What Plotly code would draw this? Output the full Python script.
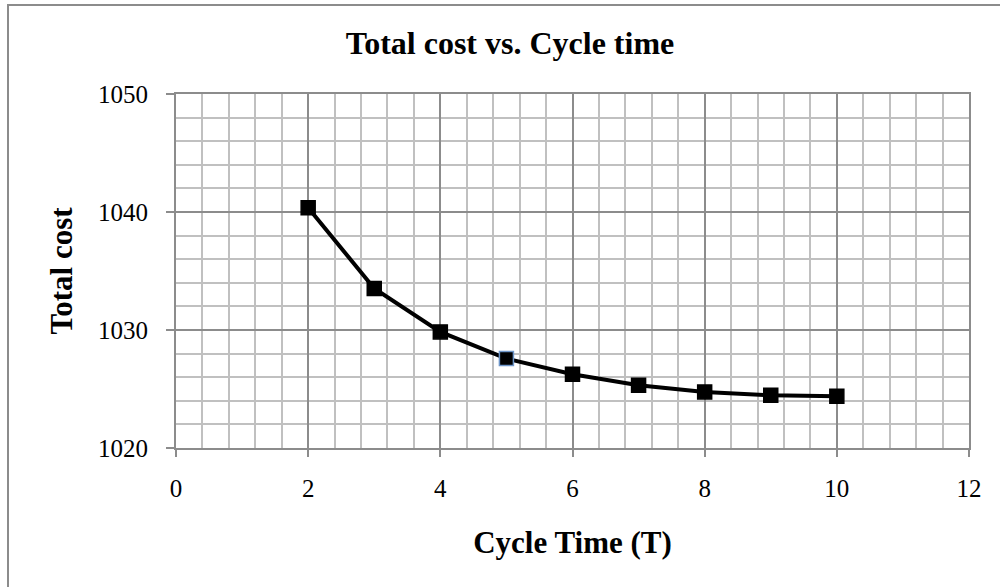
import plotly.graph_objects as go

cycle_time = [2, 3, 4, 5, 6, 7, 8, 9, 10]
total_cost = [1040.36, 1033.52, 1029.84, 1027.58, 1026.25, 1025.32, 1024.75, 1024.47, 1024.39]
marker_edge = ["black", "black", "black", "#6d95c8", "black", "black", "black", "black", "black"]

x_ticks = [0, 2, 4, 6, 8, 10, 12]
y_ticks = [1020, 1030, 1040, 1050]

FONT = "Liberation Serif, Times New Roman, serif"
MAJOR = "#8c8c8c"
MINOR = "#c0c0c0"

fig = go.Figure()
fig.add_trace(go.Scatter(
    x=cycle_time, y=total_cost, mode="lines+markers",
    line=dict(color="black", width=4),
    marker=dict(symbol="square", size=14, color="black",
                line=dict(color=marker_edge, width=1.5)),
    showlegend=False,
))

L, R, T, B = 176, 31, 94, 139
W, H = 1000, 587
pw = W - L - R
ph = H - T - B

fig.update_layout(
    width=W, height=H,
    margin=dict(l=L, r=R, t=T, b=B),
    paper_bgcolor="white", plot_bgcolor="white",
    font=dict(family=FONT, color="black"),
    title=dict(text="<b>Total cost vs. Cycle time</b>", font=dict(size=32, family=FONT, color="black"),
               x=0.51, xref="container", xanchor="center",
               y=1 - 43 / H, yref="container", yanchor="middle"),
    xaxis=dict(
        range=[0, 12], tickvals=x_ticks, ticks="outside", ticklen=7, tickwidth=2, tickcolor=MAJOR,
        showline=True, linecolor=MAJOR, linewidth=2, mirror=True,
        showgrid=True, gridcolor=MAJOR, gridwidth=2, zeroline=False,
        tickfont=dict(size=25, family=FONT, color="black"),
        ticklabelstandoff=10,
        minor=dict(dtick=0.4, showgrid=True, gridcolor=MINOR, gridwidth=2, ticks=""),
        title=dict(text="<b>Cycle Time (T)</b>", font=dict(size=31, family=FONT, color="black"), standoff=30),
    ),
    yaxis=dict(
        range=[1020, 1050], tickvals=y_ticks, ticks="outside", ticklen=8, tickwidth=2, tickcolor=MAJOR,
        showline=True, linecolor=MAJOR, linewidth=2, mirror=True,
        showgrid=True, gridcolor=MAJOR, gridwidth=2, zeroline=False,
        tickfont=dict(size=25, family=FONT, color="black"),
        ticklabelstandoff=13,
        minor=dict(dtick=2, showgrid=True, gridcolor=MINOR, gridwidth=2, ticks=""),
        title=dict(text="<b>Total cost</b>", font=dict(size=31, family=FONT, color="black"), standoff=16),
    ),
)

# outer chart frame
fig.add_shape(type="rect", xref="paper", yref="paper",
              x0=(8 - L) / pw, x1=(1010 - L) / pw,
              y0=(T + ph - 600) / ph, y1=(T + ph - 5) / ph,
              line=dict(color="#8c8c8c", width=2), fillcolor="rgba(0,0,0,0)", layer="below")

fig.write_html("out.html")
